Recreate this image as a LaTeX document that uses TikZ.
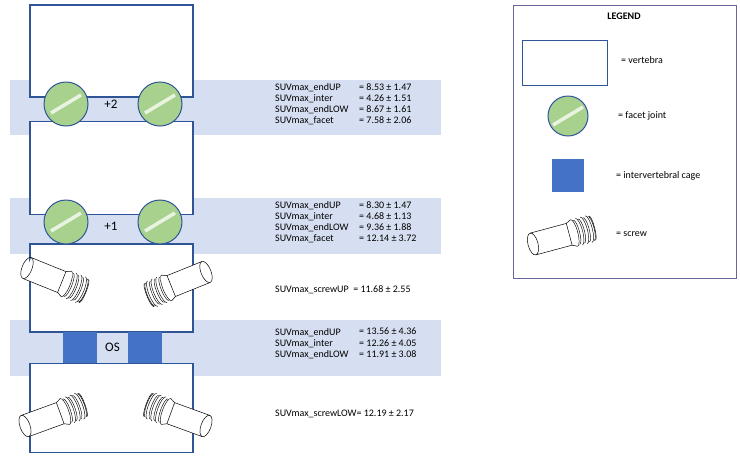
\documentclass[tikz,border=0pt]{standalone}
\usepackage{fontspec}
\setmainfont{Carlito}
\definecolor{bandc}{HTML}{D6DFF1}
\definecolor{vertc}{HTML}{2F5597}
\definecolor{facc}{HTML}{A9D18E}
\definecolor{cagec}{HTML}{4472C4}
\begin{document}
\begin{tikzpicture}[x=1pt,y=-1pt,
 band/.style={fill=bandc,draw=none},
 vert/.style={draw=vertc,line width=1.3pt,fill=white},
 facet/.style={circle,minimum size=44pt,inner sep=0pt,fill=facc,draw=vertc,line width=1pt,path picture={\draw[white,line width=3.5pt,opacity=.75] ([shift={(-15pt,-9pt)}]path picture bounding box.center)--([shift={(15pt,9pt)}]path picture bounding box.center);}},
 cage/.style={fill=cagec,draw=none},
 val/.style={anchor=north west,font=\fontsize{10}{11.2}\selectfont,align=left,inner sep=0pt},
 lab/.style={anchor=west,font=\fontsize{10}{11.2}\selectfont,inner sep=0pt},
 screw/.pic={
  \begin{scope}[scale=1.25]
  \draw[line width=.5pt,fill=white] (0,-9) -- (30,-9) -- (30,9) -- (0,9);
  \draw[line width=.5pt] (0,0) ellipse (4 and 9);
  \draw[line width=.5pt] (30,-9) -- (34,-11) (30,9) -- (34,11);
  \foreach \i in {0,1,2,3}{\draw[line width=.45pt] ({34+4*\i},-11) arc (-90:90:3 and 11);
    \draw[line width=.45pt] ({36+4*\i},-10) arc (-90:90:2.5 and 10);}
  \draw[line width=.5pt] (49,-10) arc(-90:90:2 and 10);
  \end{scope}
 }]
\useasboundingbox (0,0) rectangle (740,456);
% bands
\fill[band] (10,80) rectangle (441,135);
\fill[band] (10,198) rectangle (441,254);
\fill[band] (10,320) rectangle (441,376);
% vertebrae
\node[vert,minimum width=163pt,minimum height=92pt,inner sep=0pt] (v1) at (111.5,51) {};
\node[vert,minimum width=163pt,minimum height=93pt,inner sep=0pt] (v2) at (111.5,168) {};
\node[vert,minimum width=163pt,minimum height=88pt,inner sep=0pt] (v3) at (111.5,288) {};
\node[vert,minimum width=163pt,minimum height=89pt,inner sep=0pt] (v4) at (111.5,408) {};
% facets
\node[facet] (f1) at (66,104) {};
\node[facet] (f2) at (160,104) {};
\node at (111,104) (l2) {\fontsize{13}{15}\selectfont +2};
\node[facet] (f3) at (66,222) {};
\node[facet] (f4) at (160,222) {};
\node at (111,226) (l1) {\fontsize{13}{15}\selectfont +1};
% cage
\fill[cage] (63,332) rectangle (97,363);
\fill[cage] (128,332) rectangle (162,363);
\node (os) at (112.5,347.5) {\fontsize{13}{15}\selectfont OS};
% screws
\pic[rotate=-22] at (27,268) {screw};
\pic[rotate=202] at (206,272) {screw};
\pic[rotate=20] at (25,426) {screw};
\pic[rotate=160] at (206,426) {screw};
% values
\node[val] (t1) at (275,83) {SUVmax\_endUP\\SUVmax\_inter\\SUVmax\_endLOW\\SUVmax\_facet};
\node[val] (n1) at (359,83) {= 8.53 ± 1.47\\= 4.26 ± 1.51\\= 8.67 ± 1.61\\= 7.58 ± 2.06};
\node[val] (t2) at (275,201) {SUVmax\_endUP\\SUVmax\_inter\\SUVmax\_endLOW\\SUVmax\_facet};
\node[val] (n2) at (359,201) {= 8.30 ± 1.47\\= 4.68 ± 1.13\\= 9.36 ± 1.88\\= 12.14 ± 3.72};
\node[lab] (t3) at (275,290) {SUVmax\_screwUP\ \ = 11.68 ± 2.55};
\node[val] (t4) at (275,328) {SUVmax\_endUP\\SUVmax\_inter\\SUVmax\_endLOW};
\node[val] (n4) at (359,328) {= 13.56 ± 4.36\\= 12.26 ± 4.05\\= 11.91 ± 3.08};
\node[lab] (t5) at (275,414) {SUVmax\_screwLOW= 12.19 ± 2.17};
% legend
\draw[gray!80!blue,line width=.6pt] (513,5) rectangle (736,278);
\node[font=\fontsize{10}{11.2}\selectfont\bfseries] (lt) at (624,16) {LEGEND};
\node[vert,minimum width=85pt,minimum height=45pt,inner sep=0pt] (lv) at (565,63) {};
\node[lab] (lvt) at (621,60) {= vertebra};
\node[facet,minimum size=40pt] (lf) at (568,116) {};
\node[lab] (lft) at (618,116) {= facet joint};
\fill[cage] (552,159) rectangle (584,192);
\node[lab] (lct) at (616,176) {= intervertebral cage};
\pic[rotate=15] at (533,244) {screw};
\node[lab] (lst) at (616,234) {= screw};
\end{tikzpicture}
\end{document}
